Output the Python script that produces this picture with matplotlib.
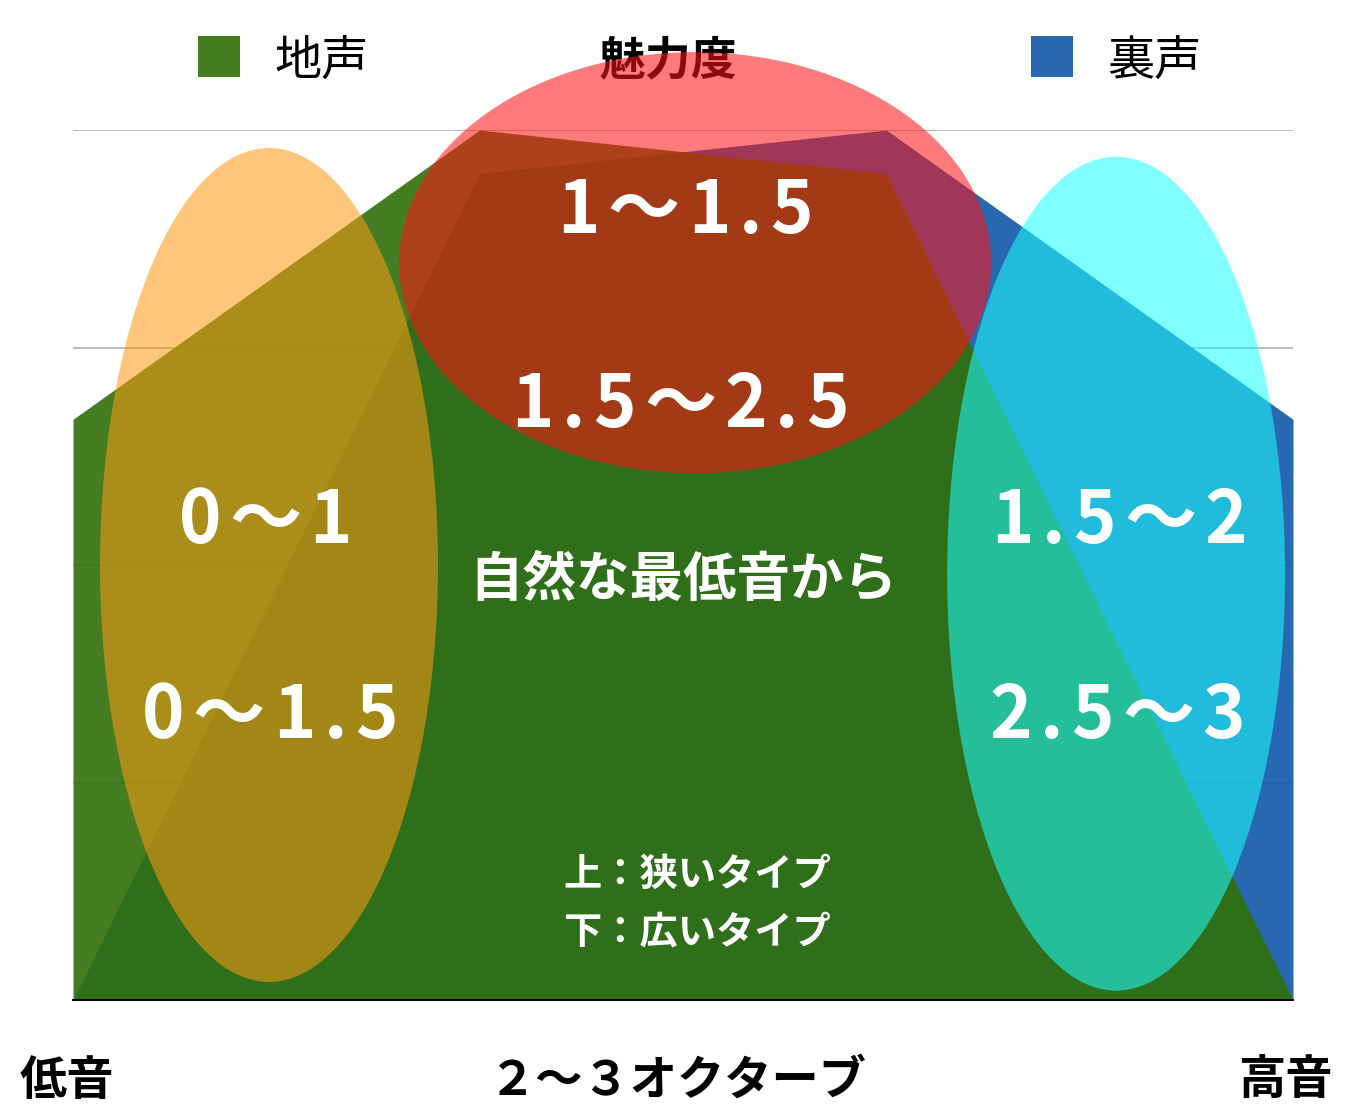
import matplotlib
matplotlib.use("Agg")
import matplotlib.pyplot as plt
from matplotlib.patches import Ellipse, Rectangle

plt.rcParams["font.family"] = ["Noto Sans CJK JP", "DejaVu Sans"]

W, H = 1348, 1114

# data
x_pos = [0, 1, 2, 3]
jigoe = [2.67, 4.0, 3.8, 0.0]      # 地声
uragoe = [0.0, 3.8, 4.0, 2.67]     # 裏声

# 魅力度 ellipses: centre x, centre y, width, height (data units)
ell_names = ["low", "mid", "high"]
ell_cx = [0.482, 1.530, 2.565]
ell_cy = [2.00, 3.39, 1.96]
ell_w = [0.831, 1.456, 0.831]
ell_h = [3.834, 1.936, 3.834]
ell_colors = ["#fc9a14", "#ff1212", "#1cffff"]

range_labels = ["1～1.5", "1.5～2.5", "0～1", "0～1.5", "1.5～2", "2.5～3"]

GREEN = "#31700a"
BLUE = "#1058a9"


def px(x, y):
    return x / W, 1 - y / H


fig = plt.figure(figsize=(W / 100, H / 100), dpi=100)
ax = fig.add_axes([73 / W, (H - 1000) / H, 1220 / W, 870 / H])
ax.set_xlim(0, 3)
ax.set_ylim(0, 4)
ax.set_yticks([1, 2, 3, 4])
ax.set_xticks([])
ax.grid(axis="y", color="#bbbbbb", lw=1.4)
ax.set_axisbelow(True)
ax.tick_params(length=0, labelleft=False)
for s in ["top", "left", "right"]:
    ax.spines[s].set_visible(False)
ax.spines["bottom"].set_linewidth(1.5)
ax.spines["bottom"].set_color("black")

ax.fill_between(x_pos, uragoe, color=BLUE, alpha=0.9, lw=0)
ax.fill_between(x_pos, jigoe, color=GREEN, alpha=0.9, lw=0)

for cx, cy, w, h, c in zip(ell_cx, ell_cy, ell_w, ell_h, ell_colors):
    ax.add_patch(Ellipse((cx, cy), w, h, facecolor=c, alpha=0.56, lw=0,
                         clip_on=False, zorder=2))

# legend + title
fig.patches.append(Rectangle(px(198, 77), 42 / W, 41 / H, transform=fig.transFigure,
                             facecolor=GREEN, alpha=0.9, lw=0))
fig.patches.append(Rectangle(px(1031, 77), 42 / W, 41 / H, transform=fig.transFigure,
                             facecolor=BLUE, alpha=0.9, lw=0))
fig.text(*px(274, 75), "地声", fontsize=34, ha="left", va="baseline")
fig.text(*px(1107, 75), "裏声", fontsize=34, ha="left", va="baseline")
fig.text(*px(668, 75), "魅力度", fontsize=33, fontweight="bold", ha="center",
         va="baseline", zorder=-1)

renderer = fig.canvas.get_renderer()


def spaced(xc, yb, s, size=52, gap=8):
    # draw string char by char with extra letter spacing
    widths = []
    for ch in s:
        t = fig.text(0, 0, ch, fontsize=size, fontweight="bold")
        widths.append(t.get_window_extent(renderer).width)
        t.remove()
    digit_w = max(w for ch, w in zip(s, widths) if ch.isdigit())
    cells = [max(w, digit_w) if ch.isdigit() else w for ch, w in zip(s, widths)]
    total = sum(cells) + gap * (len(s) - 1)
    x = xc - total / 2
    for ch, c in zip(s, cells):
        fig.text(*px(x + c / 2, yb), ch, fontsize=size, fontweight="bold",
                 color="white", ha="center", va="baseline")
        x += c + gap


spaced(685, 233, range_labels[0])
spaced(680, 427, range_labels[1])
spaced(265, 543, range_labels[2])
spaced(270, 738, range_labels[3])
spaced(1119, 543, range_labels[4])
spaced(1117, 738, range_labels[5])

fig.text(*px(683, 596), "自然な最低音から", fontsize=38.5, fontweight="bold",
         color="white", ha="center", va="baseline")
fig.text(*px(563, 886), "上：狭いタイプ", fontsize=27.5, fontweight="bold",
         color="white", ha="left", va="baseline")
fig.text(*px(563, 943), "下：広いタイプ", fontsize=27.5, fontweight="bold",
         color="white", ha="left", va="baseline")

fig.text(*px(20, 1095), "低音", fontsize=34, fontweight="bold", ha="left", va="baseline")
fig.text(*px(678, 1095), "２～３オクターブ", fontsize=34, fontweight="bold",
         ha="center", va="baseline")
fig.text(*px(1333, 1095), "高音", fontsize=34, fontweight="bold", ha="right", va="baseline")

fig.savefig("out.png", dpi=100)
